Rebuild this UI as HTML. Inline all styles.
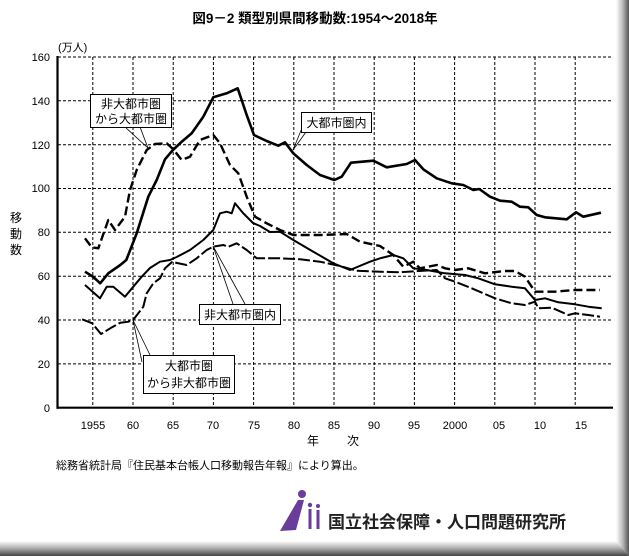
<!DOCTYPE html>
<html><head><meta charset="utf-8"><style>
body{margin:0;background:#fff;}
svg{display:block;}
text{font-family:"Liberation Sans","Noto Sans CJK JP",sans-serif;}
</style></head><body>
<svg width="629" height="556" viewBox="0 0 629 556" xmlns="http://www.w3.org/2000/svg">
<defs>
<linearGradient id="gr" x1="0" x2="1" y1="0" y2="0"><stop offset="0" stop-color="#fff"/><stop offset="0.5" stop-color="#bbb"/><stop offset="1" stop-color="#555"/></linearGradient>
<linearGradient id="gb" x1="0" x2="0" y1="0" y2="1"><stop offset="0" stop-color="#fff"/><stop offset="0.5" stop-color="#aaa"/><stop offset="1" stop-color="#444"/></linearGradient>
</defs>
<rect width="629" height="556" fill="#fff"/>
<polygon points="616,0 629,0 629,556 616,541" fill="url(#gr)"/>
<polygon points="0,541 616,541 629,556 0,556" fill="url(#gb)"/>
<text x="315" y="23" font-size="13.5" font-weight="bold" text-anchor="middle">図9－2 類型別県間移動数:1954～2018年</text>
<text x="58" y="51" font-size="11">(万人)</text>
<g stroke="#000" stroke-width="1" stroke-dasharray="3,2" fill="none">
<line x1="58" y1="57" x2="613" y2="57"/><line x1="58" y1="100.8" x2="613" y2="100.8"/>
<line x1="58" y1="144.7" x2="613" y2="144.7"/><line x1="58" y1="188.5" x2="613" y2="188.5"/>
<line x1="58" y1="232.3" x2="613" y2="232.3"/><line x1="58" y1="276.2" x2="613" y2="276.2"/>
<line x1="58" y1="320" x2="613" y2="320"/><line x1="58" y1="363.9" x2="613" y2="363.9"/>
<line x1="92.8" y1="57" x2="92.8" y2="408"/><line x1="133" y1="57" x2="133" y2="408"/>
<line x1="173.2" y1="57" x2="173.2" y2="408"/><line x1="213.4" y1="57" x2="213.4" y2="408"/>
<line x1="253.6" y1="57" x2="253.6" y2="408"/><line x1="293.8" y1="57" x2="293.8" y2="408"/>
<line x1="334" y1="57" x2="334" y2="408"/><line x1="374.2" y1="57" x2="374.2" y2="408"/>
<line x1="414.4" y1="57" x2="414.4" y2="408"/><line x1="454.6" y1="57" x2="454.6" y2="408"/>
<line x1="494.8" y1="57" x2="494.8" y2="408"/><line x1="535" y1="57" x2="535" y2="408"/>
<line x1="575.2" y1="57" x2="575.2" y2="408"/>
</g>
<g stroke="#000" stroke-width="2.2" fill="none">
<line x1="57.5" y1="56" x2="57.5" y2="408.7"/><line x1="56.5" y1="407.7" x2="613" y2="407.7"/>
</g>
<g font-size="11" text-anchor="end">
<text x="50" y="61">160</text><text x="50" y="105">140</text><text x="50" y="149">120</text><text x="50" y="192">100</text>
<text x="50" y="236">80</text><text x="50" y="280">60</text><text x="50" y="324">40</text><text x="50" y="368">20</text><text x="50" y="412">0</text>
</g>
<g font-size="12"><text x="10" y="222">移</text><text x="10" y="238">動</text><text x="10" y="254">数</text></g>
<g font-size="11" text-anchor="middle">
<text x="93" y="429">1955</text><text x="133" y="429">60</text><text x="173" y="429">65</text><text x="213" y="429">70</text>
<text x="254" y="429">75</text><text x="294" y="429">80</text><text x="334" y="429">85</text><text x="374" y="429">90</text>
<text x="414" y="429">95</text><text x="455" y="429">2000</text><text x="499" y="429">05</text><text x="540" y="429">10</text><text x="581" y="429">15</text>
</g>
<text x="313" y="445" font-size="12" text-anchor="middle">年</text><text x="353" y="445" font-size="12" text-anchor="middle">次</text>
<text x="56" y="469" font-size="11">総務省統計局『住民基本台帳人口移動報告年報』により算出。</text>
<g fill="none" stroke="#000" stroke-linejoin="round">
<polyline stroke-width="2.6" points="85,271.7 93,276.7 100.2,283.3 108.3,273.3 120.3,265 126.3,260 136.7,233.3 148.3,196.7 156.7,180 165,159.3 172.3,150.7 181.7,141.7 191.7,133.3 203.3,116.7 213.3,97.3 226.7,93.3 237.7,88.3 246.7,115 254,135 266.7,141 278.3,145.7 285,142.3 293.3,153.3 306.7,165 320,175 334.3,180 341.7,176.7 351,162.7 373.3,160.7 386.7,167.3 406.7,164 415,160 423.3,169.3 436.7,178.3 451.7,183.3 463.3,185 473.3,190 479.3,189 490,196.7 500,200.7 511.7,201.7 520,206.7 528.3,207.3 536.7,215 545,217.3 566.7,219.3 576,212.3 583.3,216.7 601,212.7"/>
<polyline stroke-width="2.4" stroke-dasharray="9,4" points="85,238.3 91.7,247.3 98.3,248.3 108.3,220 115,230 125,216.7 130,190 136.7,170 146.7,150 155,144 166.7,143.3 173.3,149.3 181.7,160 190,156.7 200,140 213.3,135 220,143.3 230,165 238.3,173.3 246.7,196.7 255,216.7 266.7,223.3 280,230 293.3,235 320,235 346.7,234 360,241.7 380,246 393.3,255 403.3,266.7 413.3,261.7 420,268.3 436.7,265 445,268.3 455,270 468.3,268.3 485,273.3 505,271 515,271 525,276.7 535,291.7 555,291.7 575,290 600,290"/>
<polyline stroke-width="2" points="85,285 100,298.3 106.7,286.7 113.3,286.7 125,296.7 133.3,286.7 141.7,276.7 150,268 160,261.7 170,260 176.7,257 190,250 203.3,240 213.3,230 220,213.3 226.7,211.7 231.7,213.3 235,203.3 243,213 253,223 260,226 270,232 280,231.7 293.3,240 313.3,251.7 333.3,263.3 350,270 370,261.7 380,258.3 393.3,255 403.3,258.3 413.3,268.3 426.7,270 445,273.3 465,275 478.3,278.3 495,284.3 511.7,286.7 525,288.3 535,300 545,298.3 558.3,302.3 575,304.3 588.3,306.7 601.7,308.3"/>
<polyline stroke-width="2" stroke-dasharray="12,3" points="82.2,319.3 92.2,323.3 101,334 110.3,328.3 120.3,322.7 128.3,321.7 133.1,320 138.3,313.3 143.3,306.7 146.7,293.3 153.3,283.3 160,278.3 165,268.3 172,262 186.7,265 196.7,258.3 206.7,250 213.3,246.7 223.3,245 228.3,246.7 236.7,243.3 246.7,250 256.7,258.3 270,258.3 280,258.3 300,259.3 320,261.7 340,266 356.7,270.7 380,271.7 400,272.3 423.3,270.7 436.7,270 445,278.3 455,281.7 471.7,288.3 495,298.3 511.7,303.3 525,305 535,301.7 538.3,308.3 551.7,307.7 568.3,315 575,313.3 588.3,315 600,316.7"/>
</g>
<g stroke="#000" stroke-width="0.8" fill="none">
<line x1="125" y1="127" x2="148" y2="148"/><line x1="140" y1="127" x2="148" y2="148"/>
<line x1="302" y1="128" x2="293" y2="150"/><line x1="306" y1="132" x2="293" y2="150"/>
<line x1="233" y1="304" x2="213" y2="246"/><line x1="245" y1="304" x2="213" y2="246"/>
<line x1="150" y1="355" x2="133" y2="320"/><line x1="142" y1="362" x2="133" y2="320"/>
</g>
<g fill="#fff" stroke="#000" stroke-width="1">
<rect x="90.5" y="94.5" width="81" height="33"/><rect x="301.5" y="112.5" width="70" height="20"/>
<rect x="199.5" y="304.5" width="81" height="20"/><rect x="143.5" y="355.5" width="91" height="38"/>
</g>
<g font-size="12" text-anchor="middle">
<text x="131" y="108">非大都市圏</text><text x="131" y="123">から大都市圏</text>
<text x="336.5" y="127">大都市圏内</text><text x="240" y="319">非大都市圏内</text>
<text x="189" y="370">大都市圏</text><text x="189" y="387">から非大都市圏</text>
</g>
<g fill="#6a3c9c">
<circle cx="302" cy="494" r="4"/><path d="M298,500 L304,500 L296,530 L280,531 Z"/>
<circle cx="310" cy="505" r="2.2"/><rect x="308.5" y="509" width="3" height="20"/>
<circle cx="318" cy="506" r="2"/><rect x="316.5" y="510" width="3" height="19"/>
</g>
<text x="328" y="528" font-size="17" font-weight="bold" fill="#222">国立社会保障・人口問題研究所</text>
</svg>
</body></html>
